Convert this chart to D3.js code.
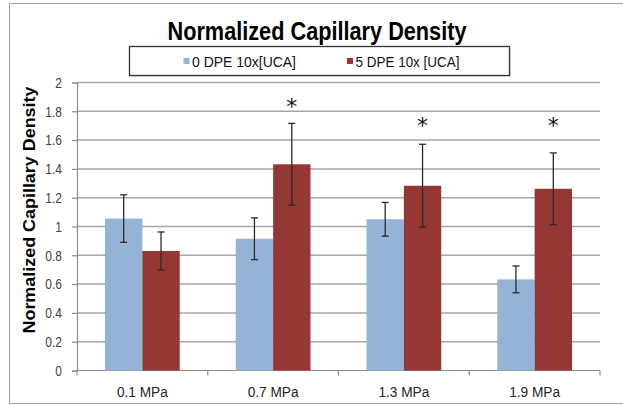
<!DOCTYPE html>
<html>
<head>
<meta charset="utf-8">
<script src="https://cdn.jsdelivr.net/npm/d3@7"></script>
<style>
  html, body { margin: 0; padding: 0; background: #fff; }
  svg { display: block; }
</style>
</head>
<body>
<svg id="chart" width="623" height="406"></svg>
<script>
// Pressure groups and the two series plotted for each
const categories = ["0.1 MPa", "0.7 MPa", "1.3 MPa", "1.9 MPa"];
const seriesNames = ["0 DPE 10x[UCA]", "5 DPE 10x [UCA]"];
const seriesColors = ["#95B3D7", "#953735"];
const dpe0Values = [1.055, 0.915, 1.05, 0.633];
const dpe0Errors = [0.165, 0.145, 0.117, 0.093];
const dpe5Values = [0.83, 1.432, 1.283, 1.262];
const dpe5Errors = [0.132, 0.284, 0.288, 0.249];
// Significance markers: category and the height (in data units) of the star
const starCategories = ["0.7 MPa", "1.3 MPa", "1.9 MPa"];
const starLevels = [1.87, 1.74, 1.74];
const yTicks = [0, 0.2, 0.4, 0.6, 0.8, 1, 1.2, 1.4, 1.6, 1.8, 2];
const yTickLabels = ["0", "0.2", "0.4", "0.6", "0.8", "1", "1.2", "1.4", "1.6", "1.8", "2"];

const sans = "'Liberation Sans', Arial, sans-serif";

// Squeeze a text element horizontally to a condensed width
function condense(sel, factor) {
  sel.each(function () {
    const w = this.getComputedTextLength();
    d3.select(this).attr("textLength", w * factor).attr("lengthAdjust", "spacingAndGlyphs");
  });
}
function fitTo(sel, width) {
  sel.attr("textLength", width).attr("lengthAdjust", "spacingAndGlyphs");
}

const svg = d3.select("#chart");
const plot = { left: 77, right: 600, top: 82.5, bottom: 370.5 };

// Outer chart frame
svg.append("rect")
  .attr("x", 9.5).attr("y", 3.5).attr("width", 640).attr("height", 400)
  .attr("fill", "none").attr("stroke", "#a0a0a0").attr("stroke-width", 1);

const x0 = d3.scaleBand().domain(categories).range([plot.left, plot.right]).padding(0);
const x1 = d3.scaleBand().domain(seriesNames).range([0, x0.bandwidth()]).paddingInner(0).paddingOuter(0.75);
const y = d3.scaleLinear().domain([0, 2]).range([plot.bottom, plot.top]);

// Horizontal gridlines
svg.append("g").selectAll("line")
  .data(yTicks.filter(d => d > 0))
  .join("line")
  .attr("x1", plot.left).attr("x2", plot.right)
  .attr("y1", d => y(d)).attr("y2", d => y(d))
  .attr("stroke", "#a6a6a6").attr("stroke-width", 1.5);

// Y axis
const yAxis = svg.append("g")
  .attr("transform", `translate(${plot.left},0)`)
  .call(d3.axisLeft(y).tickValues(yTicks).tickSize(5).tickPadding(10)
    .tickFormat((d, i) => yTickLabels[i]));
yAxis.select(".domain").attr("stroke", "#8c8c8c").attr("stroke-width", 1.2);
yAxis.selectAll(".tick line").attr("stroke", "#8c8c8c").attr("stroke-width", 1.2);
yAxis.selectAll(".tick text")
  .attr("fill", "#404040").style("font-family", sans).style("font-size", "15px")
  .call(condense, 0.8);

// X axis with ticks at the group boundaries
const xAxisG = svg.append("g");
xAxisG.append("line")
  .attr("x1", plot.left).attr("x2", plot.right)
  .attr("y1", plot.bottom).attr("y2", plot.bottom)
  .attr("stroke", "#8c8c8c").attr("stroke-width", 1.2);
const boundaries = categories.map(c => x0(c)).concat([x0(categories[categories.length - 1]) + x0.bandwidth()]);
xAxisG.selectAll(".bt").data(boundaries).join("line")
  .attr("x1", d => d).attr("x2", d => d)
  .attr("y1", plot.bottom).attr("y2", plot.bottom + 5)
  .attr("stroke", "#8c8c8c").attr("stroke-width", 1.2);
xAxisG.selectAll("text").data(categories).join("text")
  .attr("x", d => x0(d) + x0.bandwidth() / 2)
  .attr("y", 396.5)
  .attr("text-anchor", "middle")
  .attr("fill", "#262626")
  .style("font-family", sans).style("font-size", "14px")
  .text(d => d)
  .call(fitTo, 51);

// Bars and error bars
const rows = [];
categories.forEach((c, i) => {
  rows.push({ cat: c, s: seriesNames[0], v: dpe0Values[i], e: dpe0Errors[i], col: seriesColors[0] });
  rows.push({ cat: c, s: seriesNames[1], v: dpe5Values[i], e: dpe5Errors[i], col: seriesColors[1] });
});

svg.append("g").selectAll("rect").data(rows).join("rect")
  .attr("x", d => x0(d.cat) + x1(d.s))
  .attr("y", d => y(d.v))
  .attr("width", x1.bandwidth())
  .attr("height", d => y(0) - y(d.v))
  .attr("fill", d => d.col);

const eb = svg.append("g").attr("stroke", "#2b2b2b").attr("stroke-width", 1.3);
rows.forEach(d => {
  const cx = x0(d.cat) + x1(d.s) + x1.bandwidth() / 2;
  const hi = y(d.v + d.e), lo = y(d.v - d.e);
  eb.append("line").attr("x1", cx).attr("x2", cx).attr("y1", hi).attr("y2", lo);
  eb.append("line").attr("x1", cx - 3.5).attr("x2", cx + 3.5).attr("y1", hi).attr("y2", hi);
  eb.append("line").attr("x1", cx - 3.5).attr("x2", cx + 3.5).attr("y1", lo).attr("y2", lo);
});

// Significance stars over the 5 DPE bars
svg.append("g").selectAll("text").data(starCategories).join("text")
  .attr("x", d => x0(d) + x1(seriesNames[1]) + x1.bandwidth() / 2)
  .attr("y", (d, i) => y(starLevels[i]))
  .attr("dy", "0.6em")
  .attr("text-anchor", "middle")
  .attr("fill", "#111")
  .style("font-family", "'DejaVu Sans', sans-serif")
  .style("font-size", "22px")
  .text("*");

// Title
svg.append("text")
  .attr("x", 317).attr("y", 40)
  .attr("text-anchor", "middle")
  .attr("fill", "#000")
  .style("font-family", sans).style("font-weight", "bold").style("font-size", "26px")
  .text("Normalized Capillary Density")
  .call(fitTo, 299);

// Y axis title
svg.append("text")
  .attr("transform", "translate(35,210) rotate(-90)")
  .attr("text-anchor", "middle")
  .attr("fill", "#000")
  .style("font-family", sans).style("font-weight", "bold").style("font-size", "16px")
  .text("Normalized Capillary Density")
  .call(fitTo, 247);

// Legend box
const lg = svg.append("g");
lg.append("rect")
  .attr("x", 130.5).attr("y", 47.5).attr("width", 380).attr("height", 29)
  .attr("fill", "#888").attr("opacity", 0.5);
lg.append("rect")
  .attr("x", 129.5).attr("y", 46.5).attr("width", 380).attr("height", 29)
  .attr("fill", "#fff").attr("stroke", "#333").attr("stroke-width", 1.3);
const legendX = [183.5, 347];
seriesNames.forEach((s, i) => {
  lg.append("rect")
    .attr("x", legendX[i]).attr("y", 58).attr("width", 6).attr("height", 6)
    .attr("fill", seriesColors[i]);
  lg.append("text")
    .attr("x", legendX[i] + 8.5).attr("y", 67)
    .attr("fill", "#111")
    .style("font-family", sans).style("font-size", "15px")
    .text(s)
    .call(fitTo, 104);
});
</script>
</body>
</html>
